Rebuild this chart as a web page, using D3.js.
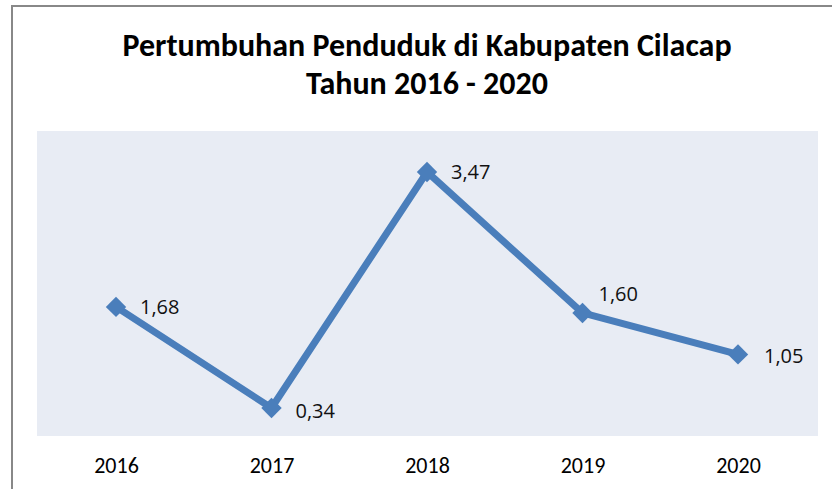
<!DOCTYPE html>
<html>
<head>
<meta charset="utf-8">
<script src="https://cdn.jsdelivr.net/npm/d3@7"></script>
<style>
  body { margin: 0; background: #fff; }
  svg { display: block; }
</style>
</head>
<body>
<div id="chart"></div>
<script>
let width = 832;
let height = 489;

let years = ['2016', '2017', '2018', '2019', '2020'];
let growth = [1.68, 0.34, 3.47, 1.60, 1.05];
let titleLines = ['Pertumbuhan Penduduk di Kabupaten Cilacap', 'Tahun 2016 - 2020'];

let plot = { left: 37, right: 818, top: 131, bottom: 436 };
let calibri = "Carlito, 'Liberation Sans Narrow', 'Liberation Sans', sans-serif";

let svg = d3.select('#chart')
  .append('svg')
  .attr('width', width)
  .attr('height', height);

// frame (only top and left edges visible)
svg.append('path')
  .attr('d', 'M12,' + height + ' L12,6 L' + width + ',6')
  .attr('fill', 'none')
  .attr('stroke', '#888888')
  .attr('stroke-width', 2);

svg.selectAll('.title')
  .data(titleLines)
  .enter()
  .append('text')
  .attr('class', 'title')
  .attr('x', 427)
  .attr('y', function(d, i) { return 56 + i * 38; })
  .attr('text-anchor', 'middle')
  .style('font-family', calibri)
  .style('font-size', '32px')
  .style('font-weight', 'bold')
  .style('fill', '#000')
  .text(function(d) { return d; });

svg.append('rect')
  .attr('x', plot.left)
  .attr('y', plot.top)
  .attr('width', plot.right - plot.left)
  .attr('height', plot.bottom - plot.top)
  .attr('fill', '#e8ecf4');

let x = d3.scalePoint()
  .domain(years)
  .range([116, 738]);

let y = d3.scaleLinear()
  .domain([0, 4])
  .range([433.6, 132]);

let xAxis = svg.append('g')
  .attr('transform', 'translate(0,' + plot.bottom + ')')
  .call(d3.axisBottom(x).tickSize(0).tickPadding(0));
xAxis.select('.domain').remove();
xAxis.selectAll('text')
  .attr('dy', null)
  .attr('y', 37)
  .style('font-family', calibri)
  .style('font-size', '22px')
  .style('fill', '#000');

let points = years.map(function(d, i) { return { year: d, value: growth[i] }; });

let line = d3.line()
  .x(function(d) { return x(d.year); })
  .y(function(d) { return y(d.value); });

svg.append('path')
  .datum(points)
  .attr('d', line)
  .attr('fill', 'none')
  .attr('stroke', '#4a7ebb')
  .attr('stroke-width', 7)
  .attr('stroke-linejoin', 'round');

svg.selectAll('.marker')
  .data(points)
  .enter()
  .append('path')
  .attr('class', 'marker')
  .attr('d', d3.symbol().type(d3.symbolDiamond2).size(265))
  .attr('transform', function(d) { return 'translate(' + x(d.year) + ',' + y(d.value) + ')'; })
  .attr('fill', '#4a7ebb');

let labelOffsets = [[24, 7], [24, 10], [24, 7], [16, -12], [26, 9]];

svg.selectAll('.label')
  .data(points)
  .enter()
  .append('text')
  .attr('class', 'label')
  .attr('x', function(d, i) { return x(d.year) + labelOffsets[i][0]; })
  .attr('y', function(d, i) { return y(d.value) + labelOffsets[i][1]; })
  .style('font-family', "'Open Sans', 'Noto Sans', sans-serif")
  .style('font-size', '20px')
  .style('fill', '#111')
  .text(function(d) { return d.value.toFixed(2).replace('.', ','); });
</script>
</body>
</html>
